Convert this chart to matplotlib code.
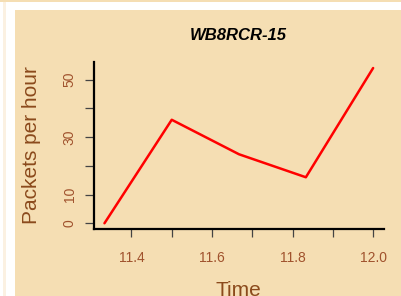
import matplotlib
matplotlib.use('Agg')
import matplotlib.pyplot as plt
from matplotlib.patches import Rectangle

plt.rcParams['font.family'] = ['Liberation Sans', 'DejaVu Sans']

# data
times = [11.333, 11.5, 11.667, 11.833, 12.0]
packets = [0, 36, 24, 16, 54]
x_ticks = [11.4, 11.5, 11.6, 11.7, 11.8, 11.9, 12.0]
x_labels = ['11.4', '', '11.6', '', '11.8', '', '12.0']
y_ticks = [0, 10, 20, 30, 40, 50]
y_labels = ['0', '10', '', '30', '', '50']

panel = '#F5DEB3'
tickcol = '#A0522D'
labcol = '#8B4A1C'

W, H = 401, 296
fig = plt.figure(figsize=(W / 100, H / 100), dpi=100)
fig.patch.set_facecolor('white')

# page background pieces
fig.patches.append(Rectangle((15 / W, 0), 1, 1 - 10 / H, transform=fig.transFigure,
                             facecolor=panel, edgecolor='none', zorder=-10))
fig.patches.append(Rectangle((0, 1 - 1.5 / H), 1, 1.5 / H, transform=fig.transFigure,
                             facecolor=panel, edgecolor='none', zorder=-10))
fig.patches.append(Rectangle((3.5 / W, 0), 2 / W, 1 - 1.5 / H, transform=fig.transFigure,
                             facecolor='#FBF1E2', edgecolor='none', zorder=-10))

ax = fig.add_axes([94 / W, 1 - 229 / H, 290 / W, 167 / H])
ax.set_facecolor('none')
ax.plot(times, packets, color='red', lw=1.8, solid_capstyle='round')

ax.set_xlim(11.307, 12.027)
ax.set_ylim(-2.0, 56.1)
ax.set_xticks(x_ticks)
ax.set_xticklabels(x_labels)
ax.set_yticks(y_ticks)
ax.set_yticklabels(y_labels, rotation=90, va='center')

for s in ['top', 'right']:
    ax.spines[s].set_visible(False)
for s in ['left', 'bottom']:
    ax.spines[s].set_linewidth(1.6)
    ax.spines[s].set_color('black')

ax.tick_params(axis='x', length=6, width=0.9, color='#444444', pad=10,
               labelsize=10, labelcolor=tickcol)
ax.tick_params(axis='y', length=6.5, width=0.9, color='#444444', pad=6,
               labelsize=10, labelcolor=tickcol)

fig.text(238 / W, 1 - 36 / H, 'WB8RCR-15', ha='center', va='center',
         fontsize=12, fontweight='bold', fontstyle='italic', color='black')
fig.text(32 / W, 1 - 145 / H, 'Packets per hour', rotation=90, ha='center',
         va='center', fontsize=15, color=labcol)
fig.text(238 / W, 1 - 291 / H, 'Time', ha='center', va='center',
         fontsize=15, color=labcol)

fig.savefig('out.png', dpi=100)
